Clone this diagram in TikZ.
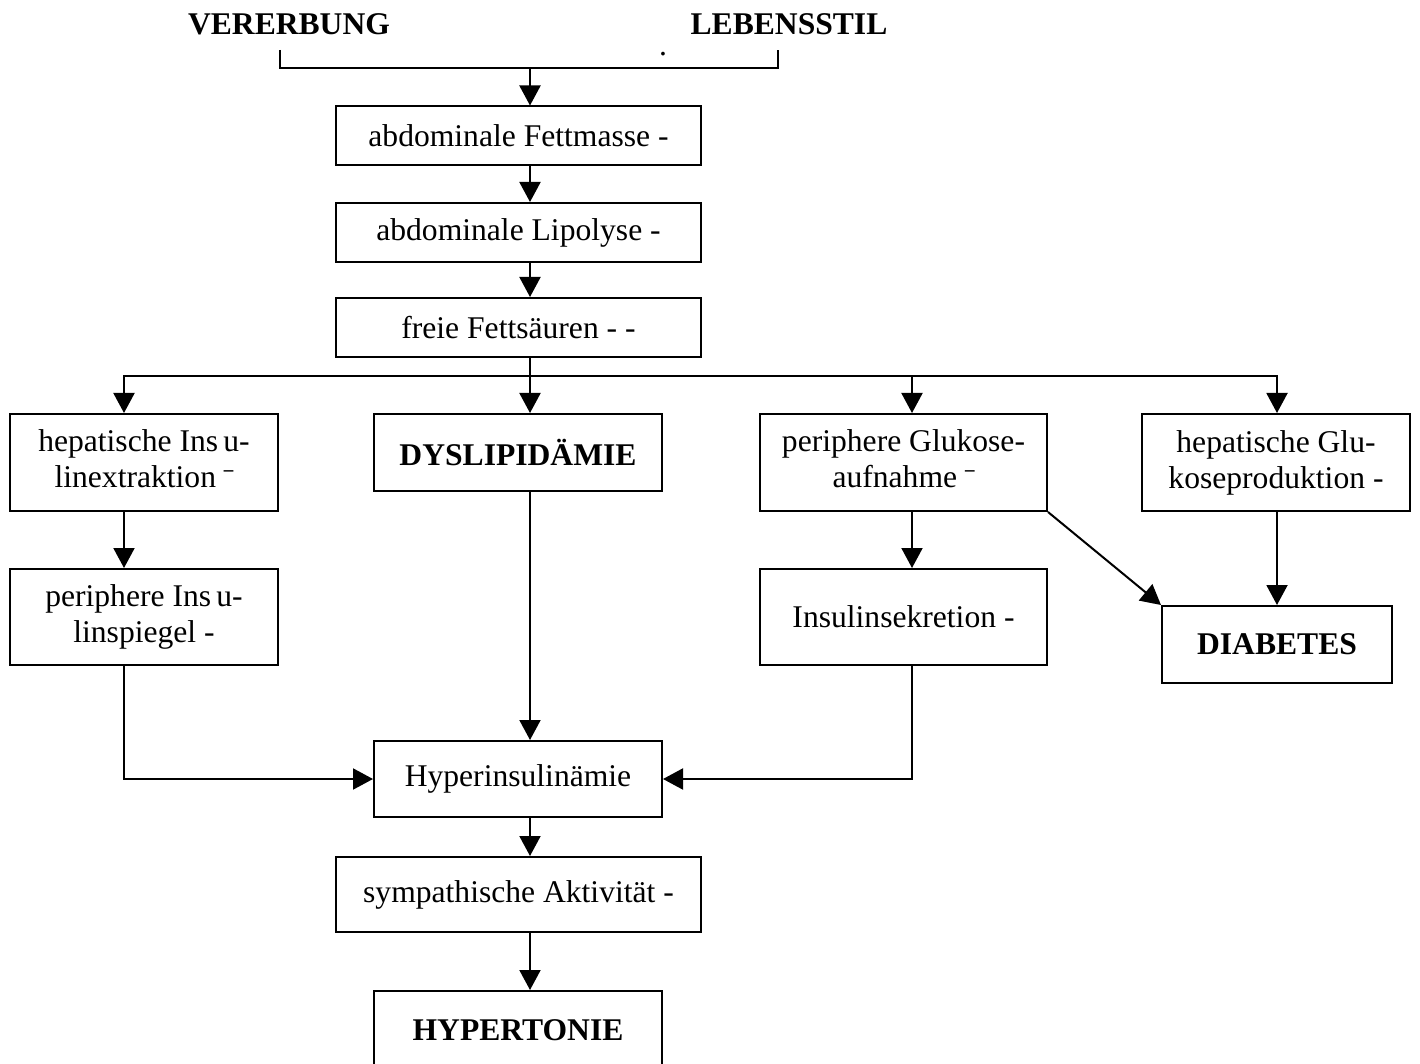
\documentclass[tikz,border=0pt]{standalone}
\usepackage{fontspec}
\setmainfont{Liberation Serif}
\usetikzlibrary{arrows.meta}

\newcommand{\lowmac}{\raisebox{-3.5pt}{\scalebox{0.6}[1]{¯}}}

\begin{document}
\begin{tikzpicture}[x=0.5pt, y=-0.5pt, line width=1pt,
    txt/.style={font=\fontsize{15.8pt}{18pt}\selectfont},
    title/.style={font=\bfseries\fontsize{15.8pt}{18pt}\selectfont},
    box/.style={draw, txt, inner sep=0pt, align=center},
    wide/.style={box, minimum width=182.5pt, minimum height=29.5pt},
    side/.style={box, minimum width=134pt, minimum height=48.5pt},
    arr/.style={-{Triangle[length=10pt,width=10.5pt]}}]
    \useasboundingbox (0,0) rectangle (1420,1064);
    \clip (0,0) rectangle (1420,1064);
    % columns of the connectors
    \coordinate (mid) at (530,0);
    \coordinate (colL) at (124,0);
    \coordinate (colG) at (912,0);
    \coordinate (colR) at (1277,0);
    % top
    \node[title] (vererbung) at (289,24) {VERERBUNG};
    \node[title] (lebensstil) at (789,24) {LEBENSSTIL};
    \node[txt, inner sep=0pt] (dot) at (663,54) {.};
    \coordinate (brL) at (280,50);
    \coordinate (brR) at (778,50);
    \coordinate (brM) at (530,68);
    \draw (brL) -- ++(0,18) -| (brR);
    % main chain
    \node[wide] (fettmasse) at (518.5,136) {abdominale Fettmasse -};
    \node[wide] (lipolyse) at (518.5,232.5) {abdominale Lipolyse -};
    \node[wide] (fettsaeuren) at (518.5,327.5) {freie Fettsäuren - -};
    \draw[arr] (brM) -- (fettmasse.north -| brM);
    \draw[arr] (fettmasse.south -| mid) -- (lipolyse.north -| mid);
    \draw[arr] (lipolyse.south -| mid) -- (fettsaeuren.north -| mid);
    % second row
    \node[side] (hepextrakt) at (144,462.5) {hepatische Ins\,u-\\linextraktion \lowmac};
    \node[box, title, minimum width=144pt, minimum height=38.5pt] (dyslip) at (518,452.5) {DYSLIPIDÄMIE};
    \node[box, minimum width=143.5pt, minimum height=48.5pt] (glukaufn) at (903.5,462.5) {periphere Glukose-\\aufnahme \lowmac};
    \node[side] (hepprod) at (1276,462.5) {hepatische Glu-\\koseproduktion -};
    \coordinate (split) at (530,376);
    \draw (fettsaeuren.south -| mid) -- (split);
    \draw[arr] (split) -| (hepextrakt.north -| colL);
    \draw[arr] (split) -- (dyslip.north -| mid);
    \draw[arr] (split) -| (glukaufn.north -| colG);
    \draw[arr] (split) -| (hepprod.north -| colR);
    % third row
    \node[side, minimum height=48pt] (spiegel) at (144,617) {periphere Ins\,u-\\linspiegel -};
    \node[box, minimum width=143.5pt, minimum height=48pt] (sekretion) at (903.5,617) {Insulinsekretion -};
    \node[box, title, minimum width=115pt, minimum height=38.5pt] (diabetes) at (1277,644.5) {DIABETES};
    \draw[arr] (hepextrakt.south -| colL) -- (spiegel.north -| colL);
    \draw[arr] (glukaufn.south -| colG) -- (sekretion.north -| colG);
    \draw[arr] (glukaufn.south east) -- (diabetes.north west);
    \draw[arr] (hepprod.south -| colR) -- (diabetes.north -| colR);
    % bottom chain
    \node[box, minimum width=144pt, minimum height=38pt] (hyperins) at (518,779) {Hyperinsulinämie};
    \node[wide, minimum height=37.5pt] (sympakt) at (518.5,894.5) {sympathische Aktivität -};
    \node[box, title, minimum width=144pt, minimum height=39pt] (hypertonie) at (518,1030) {HYPERTONIE};
    \draw[arr] (dyslip.south -| mid) -- (hyperins.north -| mid);
    \draw[arr] (spiegel.south -| colL) |- (hyperins.west);
    \draw[arr] (sekretion.south -| colG) |- (hyperins.east);
    \draw[arr] (hyperins.south -| mid) -- (sympakt.north -| mid);
    \draw[arr] (sympakt.south -| mid) -- (hypertonie.north -| mid);
\end{tikzpicture}
\end{document}
